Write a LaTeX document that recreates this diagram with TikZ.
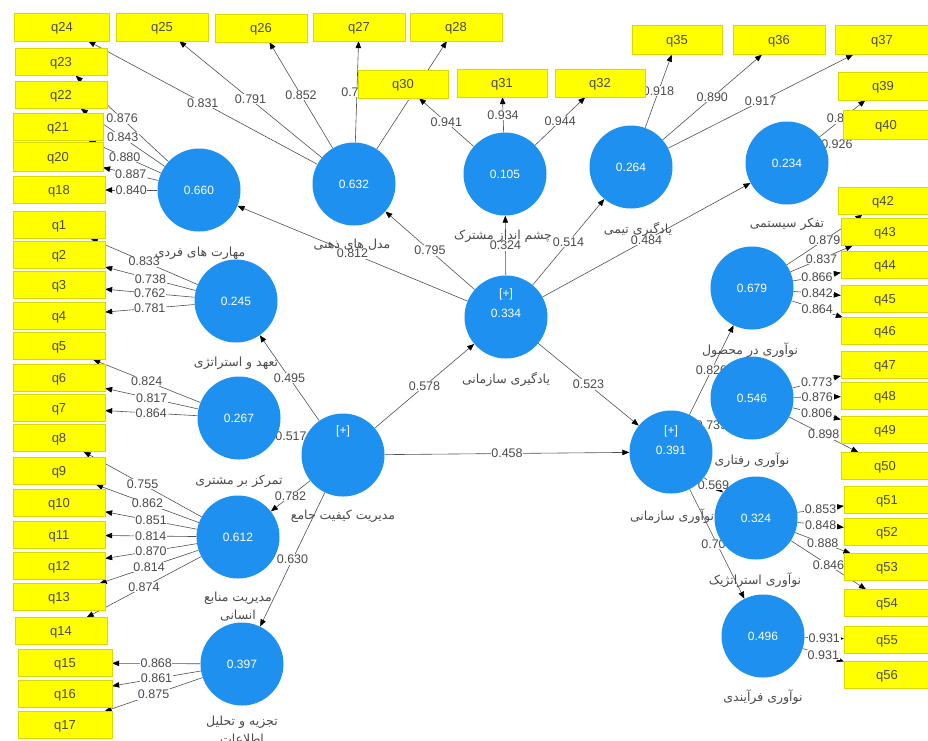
\documentclass[tikz,border=0pt]{standalone}
\usepackage{fontspec}
\setmainfont{Liberation Sans}
\newfontfamily\fa[Script=Arabic]{DejaVu Sans}
\TeXXeTstate=1
\usetikzlibrary{arrows.meta}
\pgfdeclarelayer{bg}
\pgfdeclarelayer{paper}
\pgfsetlayers{paper,bg,main}
\definecolor{lvblue}{RGB}{30,144,240}
\definecolor{qyel}{RGB}{255,255,0}
\definecolor{lnc}{RGB}{80,80,80}
\definecolor{txc}{RGB}{75,75,75}
\begin{document}
\begin{tikzpicture}[x=1pt,y=-1pt,
  ind/.style={rectangle, fill=qyel, draw=qyel!85!black, line width=0.3pt, minimum width=92pt, minimum height=27pt, inner sep=0pt, text depth=0pt, font=\fontsize{13}{13}\selectfont, text=txc},
  lv/.style={circle, fill=lvblue, minimum size=83pt, inner sep=0pt, text=white, font=\fontsize{12}{12}\selectfont},
  lvt/.style={text=white, inner sep=0pt, font=\fontsize{12}{12}\selectfont},
  pth/.style={draw=lnc, line width=0.6pt, -{Triangle[length=7pt,width=5.5pt,color=black]}},
  lab/.style={fill=white, inner sep=0.6pt, font=\fontsize{12.5}{12.5}\selectfont, text=txc},
  lvl/.style={font=\fa\fontsize{12.5}{18}\selectfont, text=txc, align=center, inner sep=0pt}
]
\useasboundingbox (0,0) rectangle (928,740);
\begin{pgfonlayer}{paper}
\fill[white] (0,0) rectangle (928,740);
\end{pgfonlayer}

% ---------- latent variables ----------
\node[lv] (c660) at (199,190) {0.660};
\node[lv] (c632) at (354,184) {0.632};
\node[lv] (c105) at (505,174) {0.105};
\node[lv] (c264) at (631,167) {0.264};
\node[lv] (c234) at (787,163) {0.234};
\node[lv] (c334) at (506,317) {};
\node[lvt] (t334a) at (506,294) {[+]};
\node[lvt] (t334b) at (506,313) {0.334};
\node[lv] (c245) at (236,301) {0.245};
\node[lv] (c267) at (239,418) {0.267};
\node[lv] (cTQM) at (343,455) {};
\node[lvt] (tTQMa) at (343,431) {[+]};
\node[lv] (c612) at (238,537) {0.612};
\node[lv] (c397) at (242,664) {0.397};
\node[lv] (c391) at (671,452) {};
\node[lvt] (t391a) at (671,431) {[+]};
\node[lvt] (t391b) at (671,450) {0.391};
\node[lv] (c679) at (752,288) {0.679};
\node[lv] (c546) at (752,398) {0.546};
\node[lv] (c324) at (756,518) {0.324};
\node[lv] (c496) at (763,636) {0.496};

% ---------- construct names ----------
\node[lvl] (n660) at (200,253) {\beginR مهارت های فردی\endR};
\node[lvl] (n632) at (352,245) {\beginR مدل های ذهنی\endR};
\node[lvl] (n105) at (503,236) {\beginR چشم انداز مشترک\endR};
\node[lvl] (n264) at (638,229) {\beginR یادگیری تیمی\endR};
\node[lvl] (n234) at (787,224) {\beginR تفکر سیستمی\endR};
\node[lvl] (n334) at (506,379) {\beginR یادگیری سازمانی\endR};
\node[lvl] (n245) at (236,363) {\beginR تعهد و استراتژی\endR};
\node[lvl] (n267) at (239,481) {\beginR تمرکز بر مشتری\endR};
\node[lvl] (nTQM) at (343,516) {\beginR مدیریت کیفیت جامع\endR};
\node[lvl, anchor=north] (n612) at (238,592) {\beginR مدیریت منابع\endR\\\beginR انسانی\endR};
\node[lvl, anchor=north] (n397) at (242,716) {\beginR تجزیه و تحلیل\endR\\\beginR اطلاعات\endR};
\node[lvl] (n391) at (672,516) {\beginR نوآوری سازمانی\endR};
\node[lvl] (n679) at (750,350) {\beginR نوآوری در محصول\endR};
\node[lvl] (n546) at (752,460) {\beginR نوآوری رفتاری\endR};
\node[lvl] (n324) at (755,580) {\beginR نوآوری استراتژیک\endR};
\node[lvl] (n496) at (763,697) {\beginR نوآوری فرآیندی\endR};

% ---------- indicators ----------
\node[ind, minimum width=95pt, minimum height=28pt] (q24) at (62,27) {q24};
\node[ind, minimum height=28pt] (q25) at (162,27) {q25};
\node[ind, minimum height=28pt] (q26) at (261,28) {q26};
\node[ind, minimum height=28pt] (q27) at (359,27) {q27};
\node[ind, minimum height=28pt] (q28) at (456,27) {q28};
\node[ind, minimum width=90pt, minimum height=28pt] (q30) at (403,84) {q30};
\node[ind, minimum width=90pt, minimum height=28pt] (q31) at (502,83) {q31};
\node[ind, minimum width=90pt, minimum height=28pt] (q32) at (600,83) {q32};
\node[ind, minimum width=90pt, minimum height=29pt] (q35) at (677,40) {q35};
\node[ind, minimum height=29pt] (q36) at (779,40) {q36};
\node[ind, minimum width=93pt, minimum height=29pt] (q37) at (882,40) {q37};
\node[ind, minimum width=90pt, minimum height=28pt] (q39) at (883,86) {q39};
\node[ind, minimum width=86pt, minimum height=29pt] (q40) at (886,125) {q40};
% right column
\node[ind, minimum width=90pt] (q42) at (883,201) {q42};
\node[ind, minimum width=88pt] (q43) at (885,232) {q43};
\node[ind, minimum width=88pt] (q44) at (885,265) {q44};
\node[ind, minimum width=88pt] (q45) at (885,299) {q45};
\node[ind, minimum width=88pt] (q46) at (885,331) {q46};
\node[ind, minimum width=88pt] (q47) at (885,365) {q47};
\node[ind, minimum width=88pt] (q48) at (885,396) {q48};
\node[ind, minimum width=88pt] (q49) at (885,430) {q49};
\node[ind, minimum width=88pt] (q50) at (885,466) {q50};
\node[ind, minimum width=86pt] (q51) at (887,500) {q51};
\node[ind, minimum width=86pt] (q52) at (887,532) {q52};
\node[ind, minimum width=86pt] (q53) at (887,567) {q53};
\node[ind, minimum width=86pt] (q54) at (887,603) {q54};
\node[ind, minimum width=86pt] (q55) at (887,640) {q55};
\node[ind, minimum width=86pt] (q56) at (887,675) {q56};
% left column
\node[ind] (q23) at (61,62) {q23};
\node[ind] (q22) at (61,95) {q22};
\node[ind, minimum width=90pt] (q21) at (58,127) {q21};
\node[ind, minimum width=90pt, minimum height=29pt] (q20) at (58,157) {q20};
\node[ind] (q18) at (59,190) {q18};
\node[ind] (q1) at (59,225) {q1};
\node[ind] (q2) at (59,255) {q2};
\node[ind] (q3) at (59,285) {q3};
\node[ind] (q4) at (59,316) {q4};
\node[ind] (q5) at (59,346) {q5};
\node[ind] (q6) at (59,378) {q6};
\node[ind] (q7) at (59,408) {q7};
\node[ind] (q8) at (59,438) {q8};
\node[ind] (q9) at (59,471) {q9};
\node[ind] (q10) at (59,503) {q10};
\node[ind] (q11) at (59,535) {q11};
\node[ind] (q12) at (59,566) {q12};
\node[ind] (q13) at (59,597) {q13};
\node[ind] (q14) at (61,631) {q14};
\node[ind, minimum width=94pt] (q15) at (65,663) {q15};
\node[ind, minimum width=94pt] (q16) at (65,694) {q16};
\node[ind, minimum width=94pt] (q17) at (65,725) {q17};

% ---------- connectors ----------
\begin{pgfonlayer}{bg}
% outer loadings
\draw[pth] (c632) -- node[lab]{0.831} (q24);
\draw[pth] (c632) -- node[lab]{0.791} (q25);
\draw[pth] (c632) -- node[lab]{0.852} (q26);
\draw[pth] (c632) -- node[lab]{0.789} (q27);
\draw[pth] (c632) -- node[lab]{0.835} (q28);
\draw[pth] (c660) -- node[lab]{0.876} (q23);
\draw[pth] (c660) -- node[lab]{0.843} (q22);
\draw[pth] (c660) -- node[lab]{0.880} (q21);
\draw[pth] (c660) -- node[lab]{0.887} (q20);
\draw[pth] (c660) -- node[lab]{0.840} (q18);
\draw[pth] (c245) -- node[lab]{0.833} (q1);
\draw[pth] (c245) -- node[lab]{0.738} (q2);
\draw[pth] (c245) -- node[lab]{0.762} (q3);
\draw[pth] (c245) -- node[lab]{0.781} (q4);
\draw[pth] (c267) -- node[lab]{0.824} (q5);
\draw[pth] (c267) -- node[lab]{0.817} (q6);
\draw[pth] (c267) -- node[lab]{0.864} (q7);
\draw[pth] (c612) -- node[lab]{0.755} (q8);
\draw[pth] (c612) -- node[lab]{0.862} (q9);
\draw[pth] (c612) -- node[lab]{0.851} (q10);
\draw[pth] (c612) -- node[lab]{0.814} (q11);
\draw[pth] (c612) -- node[lab]{0.870} (q12);
\draw[pth] (c612) -- node[lab]{0.814} (q13);
\draw[pth] (c612) -- node[lab]{0.874} (q14);
\draw[pth] (c397) -- node[lab]{0.868} (q15);
\draw[pth] (c397) -- node[lab]{0.861} (q16);
\draw[pth] (c397) -- node[lab]{0.875} (q17);
\draw[pth] (c105) -- node[lab]{0.941} (q30);
\draw[pth] (c105) -- node[lab]{0.934} (q31);
\draw[pth] (c105) -- node[lab]{0.944} (q32);
\draw[pth] (c264) -- node[lab]{0.918} (q35);
\draw[pth] (c264) -- node[lab]{0.890} (q36);
\draw[pth] (c264) -- node[lab]{0.917} (q37);
\draw[pth] (c234) -- node[lab]{0.868} (q39);
\draw[pth] (c234) -- node[lab]{0.926} (q40);
\draw[pth] (c679) -- node[lab]{0.879} (q42);
\draw[pth] (c679) -- node[lab]{0.837} (q43);
\draw[pth] (c679) -- node[lab]{0.866} (q44);
\draw[pth] (c679) -- node[lab]{0.842} (q45);
\draw[pth] (c679) -- node[lab]{0.864} (q46);
\draw[pth] (c546) -- node[lab]{0.773} (q47);
\draw[pth] (c546) -- node[lab]{0.876} (q48);
\draw[pth] (c546) -- node[lab]{0.806} (q49);
\draw[pth] (c546) -- node[lab]{0.898} (q50);
\draw[pth] (c324) -- node[lab]{0.853} (q51);
\draw[pth] (c324) -- node[lab]{0.848} (q52);
\draw[pth] (c324) -- node[lab]{0.888} (q53);
\draw[pth] (c324) -- node[lab]{0.846} (q54);
\draw[pth] (c496) -- node[lab]{0.931} (q55);
\draw[pth] (c496) -- node[lab]{0.931} (q56);
% structural paths
\draw[pth] (cTQM) -- node[lab]{0.495} (c245);
\draw[pth] (cTQM) -- node[lab]{0.517} (c267);
\draw[pth] (cTQM) -- node[lab]{0.782} (c612);
\draw[pth] (cTQM) -- node[lab]{0.630} (c397);
\draw[pth] (cTQM) -- node[lab]{0.578} (c334);
\draw[pth] (cTQM) -- node[lab]{0.458} (c391);
\draw[pth] (c334) -- node[lab]{0.812} (c660);
\draw[pth] (c334) -- node[lab]{0.795} (c632);
\draw[pth] (c334) -- node[lab]{0.324} (c105);
\draw[pth] (c334) -- node[lab]{0.514} (c264);
\draw[pth] (c334) -- node[lab]{0.484} (c234);
\draw[pth] (c334) -- node[lab]{0.523} (c391);
\draw[pth] (c391) -- node[lab]{0.826} (c679);
\draw[pth] (c391) -- node[lab]{0.739} (c546);
\draw[pth] (c391) -- node[lab]{0.569} (c324);
\draw[pth] (c391) -- node[lab]{0.704} (c496);
\end{pgfonlayer}
\end{tikzpicture}
\end{document}
